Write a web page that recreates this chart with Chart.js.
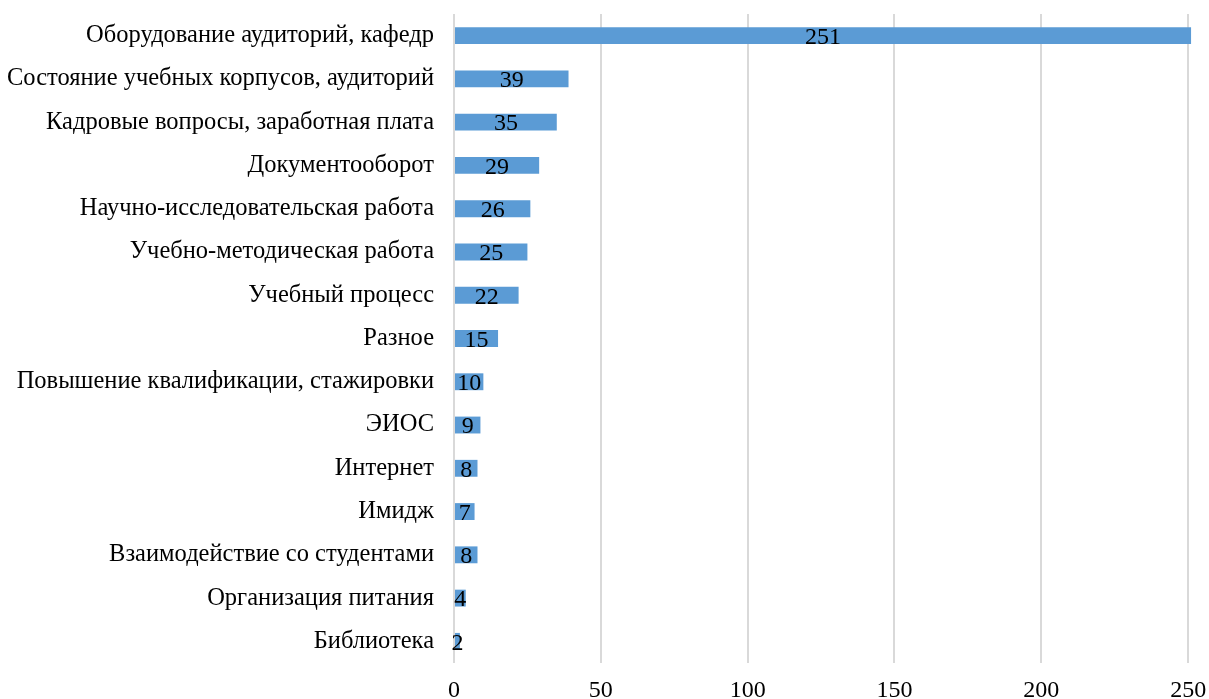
<!DOCTYPE html>
<html>
<head>
<meta charset="utf-8">
<script src="https://cdn.jsdelivr.net/npm/chart.js@4/dist/chart.umd.min.js"></script>
<style>
  html, body { margin: 0; padding: 0; background: #fff; }
</style>
</head>
<body>
<canvas id="topics-chart" width="1209" height="699"></canvas>
<script>
// categories top to bottom, and how many requests each got
const topics = [
  'Оборудование аудиторий, кафедр',
  'Состояние учебных корпусов, аудиторий',
  'Кадровые вопросы, заработная плата',
  'Документооборот',
  'Научно-исследовательская работа',
  'Учебно-методическая работа',
  'Учебный процесс',
  'Разное',
  'Повышение квалификации, стажировки',
  'ЭИОС',
  'Интернет',
  'Имидж',
  'Взаимодействие со студентами',
  'Организация питания',
  'Библиотека'
];
const counts = [251, 39, 35, 29, 26, 25, 22, 15, 10, 9, 8, 7, 8, 4, 2];
const axisTicks = [0, 50, 100, 150, 200, 250];

const serif = 'Liberation Serif, Times New Roman, serif';

// writes the value in the middle of every bar
const barValues = {
  id: 'barValues',
  afterDatasetsDraw(chart) {
    const ctx = chart.ctx;
    const meta = chart.getDatasetMeta(0);
    ctx.save();
    ctx.font = '24px ' + serif;
    ctx.fillStyle = '#000';
    ctx.textAlign = 'center';
    ctx.textBaseline = 'middle';
    meta.data.forEach((bar, i) => {
      const x = (bar.x + bar.base) / 2;
      ctx.fillText(String(counts[i]), x, bar.y + 2);
    });
    ctx.restore();
  }
};

new Chart(document.getElementById('topics-chart'), {
  type: 'bar',
  data: {
    labels: topics,
    datasets: [{
      data: counts,
      backgroundColor: '#5b9bd5',
      borderWidth: 0,
      categoryPercentage: 0.39,
      barPercentage: 1
    }]
  },
  options: {
    indexAxis: 'y',
    responsive: false,
    animation: false,
    layout: { padding: { top: 14, right: 15, left: 0, bottom: 0 } },
    plugins: {
      legend: { display: false },
      tooltip: { enabled: false }
    },
    scales: {
      x: {
        min: 0,
        max: 252,
        afterBuildTicks: scale => {
          scale.ticks = axisTicks.map(v => ({ value: v }));
        },
        afterFit: scale => {
          scale.height = 36;
          scale.paddingLeft = 0;
          scale.paddingRight = 0;
        },
        grid: { color: '#d9d9d9', lineWidth: 2, drawTicks: false },
        border: { display: false },
        ticks: {
          padding: 13,
          color: '#000',
          font: { family: serif, size: 24 }
        }
      },
      y: {
        afterFit: scale => {
          scale.width = 454;
          scale.paddingTop = 0;
          scale.paddingBottom = 0;
        },
        grid: { display: false, drawTicks: false },
        border: { display: false },
        ticks: {
          padding: 20,
          color: '#000',
          font: { family: serif, size: 24.5 }
        }
      }
    }
  },
  plugins: [barValues]
});
</script>
</body>
</html>
